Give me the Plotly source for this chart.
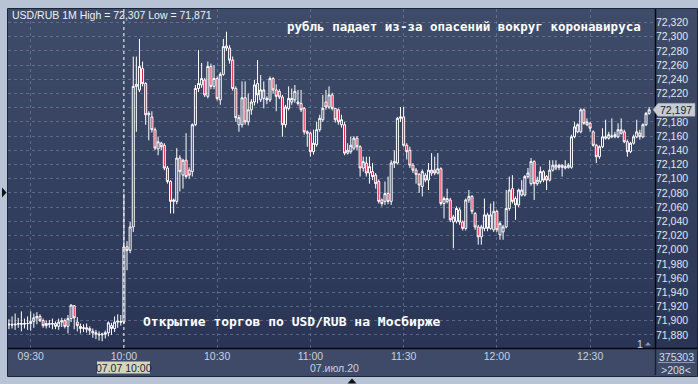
import plotly.graph_objects as go
import pandas as pd

# ---------------- data (1-minute candles, 07.07.2020, 09:23 .. 12:49) ----------------
open_ = [
    # 09:23-09:59
    71.894, 71.895, 71.894, 71.895, 71.896, 71.895, 71.896, 71.896, 71.899, 71.904,
    71.906, 71.900, 71.893, 71.896, 71.895, 71.896, 71.892, 71.898, 71.900, 71.892,
    71.903, 71.921, 71.898, 71.892, 71.889, 71.890, 71.889, 71.885, 71.883, 71.881,
    71.880, 71.881, 71.883, 71.893, 71.889, 71.898, 71.899,
    # 10:00-10:39
    71.898, 72.004, 71.999, 72.032, 72.230, 72.225, 72.255, 72.234, 72.190, 72.187,
    72.169, 72.142, 72.150, 72.147, 72.115, 72.096, 72.068, 72.068, 72.129, 72.105,
    72.126, 72.112, 72.110, 72.176, 72.227, 72.232, 72.239, 72.216, 72.258, 72.230,
    72.241, 72.211, 72.247, 72.287, 72.284, 72.267, 72.227, 72.176, 72.176, 72.214,
    # 10:40-10:59
    72.180, 72.197, 72.208, 72.234, 72.211, 72.213, 72.213, 72.211, 72.241, 72.225,
    72.223, 72.215, 72.176, 72.199, 72.208, 72.211, 72.208, 72.206, 72.199, 72.166,
    # 11:00-11:38
    72.164, 72.138, 72.148, 72.169, 72.183, 72.208, 72.201, 72.218, 72.199, 72.197,
    72.176, 72.176, 72.136, 72.138, 72.143, 72.157, 72.145, 72.115, 72.122, 72.108,
    72.110, 72.105, 72.096, 72.070, 72.068, 72.079, 72.068, 72.122, 72.122, 72.185,
    72.187, 72.147, 72.140, 72.119, 72.112, 72.106, 72.089, 72.105, 72.098,
    # 11:39-11:59
    72.108, 72.112, 72.108, 72.114, 72.065, 72.068, 72.070, 72.039, 72.040, 72.056,
    72.039, 72.030, 72.070, 72.075, 72.051, 72.032, 72.018, 72.030, 72.049, 72.030,
    72.028,
    # 12:00-12:27
    72.054, 72.021, 72.025, 72.032, 72.058, 72.086, 72.072, 72.063, 72.077, 72.077,
    72.103, 72.093, 72.124, 72.093, 72.096, 72.110, 72.103, 72.098, 72.112, 72.115,
    72.119, 72.119, 72.115, 72.116, 72.116, 72.159, 72.166, 72.166,
    # 12:28-12:49
    72.197, 72.176, 72.178, 72.166, 72.147, 72.131, 72.145, 72.157, 72.157, 72.159,
    72.159, 72.159, 72.164, 72.166, 72.152, 72.138, 72.150, 72.159, 72.164, 72.159,
    72.176, 72.192,
]
high = [
    71.902, 71.906, 71.910, 71.904, 71.913, 71.903, 71.906, 71.913, 71.910, 71.912,
    71.909, 71.903, 71.900, 71.901, 71.903, 71.899, 71.903, 71.904, 71.903, 71.908,
    71.923, 71.922, 71.905, 71.896, 71.895, 71.896, 71.892, 71.889, 71.887, 71.885,
    71.883, 71.886, 71.899, 71.897, 71.906, 71.909, 71.908,
    72.079, 72.012, 72.039, 72.272, 72.272, 72.297, 72.265, 72.236, 72.195, 72.195,
    72.172, 72.159, 72.152, 72.150, 72.118, 72.098, 72.072, 72.143, 72.133, 72.128,
    72.164, 72.116, 72.178, 72.232, 72.281, 72.263, 72.242, 72.265, 72.262, 72.260,
    72.244, 72.250, 72.297, 72.307, 72.288, 72.272, 72.230, 72.190, 72.237, 72.237,
    72.220, 72.212, 72.239, 72.267, 72.246, 72.237, 72.216, 72.244, 72.243, 72.233,
    72.226, 72.218, 72.204, 72.230, 72.227, 72.232, 72.225, 72.225, 72.201, 72.168,
    72.166, 72.169, 72.180, 72.190, 72.218, 72.225, 72.230, 72.221, 72.199, 72.199,
    72.190, 72.180, 72.150, 72.159, 72.160, 72.160, 72.147, 72.131, 72.131, 72.131,
    72.122, 72.108, 72.099, 72.072, 72.096, 72.103, 72.126, 72.140, 72.187, 72.201,
    72.201, 72.150, 72.145, 72.122, 72.115, 72.108, 72.113, 72.108, 72.122,
    72.136, 72.131, 72.136, 72.116, 72.075, 72.086, 72.073, 72.049, 72.061, 72.059,
    72.041, 72.072, 72.084, 72.077, 72.053, 72.035, 72.035, 72.072, 72.052, 72.065,
    72.068,
    72.056, 72.040, 72.035, 72.084, 72.103, 72.105, 72.075, 72.086, 72.098, 72.105,
    72.115, 72.129, 72.126, 72.103, 72.117, 72.112, 72.105, 72.126, 72.126, 72.126,
    72.121, 72.120, 72.126, 72.122, 72.162, 72.180, 72.178, 72.199,
    72.199, 72.185, 72.180, 72.168, 72.149, 72.147, 72.171, 72.183, 72.166, 72.185,
    72.166, 72.178, 72.185, 72.169, 72.155, 72.152, 72.162, 72.183, 72.169, 72.178,
    72.194, 72.201,
]
low = [
    71.888, 71.889, 71.887, 71.890, 71.885, 71.889, 71.887, 71.886, 71.890, 71.895,
    71.898, 71.890, 71.889, 71.890, 71.888, 71.888, 71.887, 71.891, 71.889, 71.882,
    71.898, 71.888, 71.885, 71.882, 71.884, 71.883, 71.880, 71.876, 71.874, 71.872,
    71.871, 71.875, 71.878, 71.880, 71.884, 71.890, 71.893,
    71.895, 71.971, 71.995, 72.025, 72.166, 72.222, 72.230, 72.176, 72.154, 72.165,
    72.140, 72.133, 72.140, 72.112, 72.093, 72.051, 72.051, 72.064, 72.082, 72.086,
    72.100, 72.100, 72.103, 72.174, 72.222, 72.228, 72.215, 72.213, 72.226, 72.226,
    72.210, 72.204, 72.245, 72.280, 72.262, 72.224, 72.180, 72.166, 72.172, 72.176,
    72.175, 72.190, 72.203, 72.206, 72.208, 72.199, 72.205, 72.208, 72.220, 72.195,
    72.212, 72.159, 72.172, 72.196, 72.204, 72.207, 72.203, 72.194, 72.162, 72.145,
    72.131, 72.134, 72.145, 72.166, 72.180, 72.197, 72.198, 72.196, 72.179, 72.176,
    72.172, 72.133, 72.134, 72.135, 72.140, 72.140, 72.103, 72.110, 72.103, 72.093,
    72.098, 72.086, 72.065, 72.061, 72.063, 72.064, 72.063, 72.115, 72.120, 72.180,
    72.145, 72.127, 72.115, 72.108, 72.093, 72.080, 72.075, 72.095, 72.084,
    72.104, 72.105, 72.106, 72.062, 72.044, 72.065, 72.039, 72.002, 72.037, 72.035,
    72.027, 72.027, 72.066, 72.050, 72.028, 72.007, 72.007, 72.026, 72.026, 72.028,
    72.025,
    72.025, 72.014, 72.014, 72.030, 72.055, 72.065, 72.042, 72.060, 72.075, 72.075,
    72.100, 72.090, 72.070, 72.090, 72.093, 72.095, 72.084, 72.096, 72.110, 72.112,
    72.112, 72.103, 72.113, 72.114, 72.114, 72.157, 72.164, 72.164,
    72.176, 72.174, 72.166, 72.145, 72.122, 72.128, 72.143, 72.155, 72.155, 72.157,
    72.157, 72.157, 72.162, 72.150, 72.131, 72.136, 72.148, 72.157, 72.155, 72.157,
    72.174, 72.190,
]
close = [
    71.895, 71.894, 71.895, 71.896, 71.895, 71.896, 71.896, 71.899, 71.904, 71.906,
    71.900, 71.893, 71.896, 71.895, 71.896, 71.892, 71.898, 71.900, 71.892, 71.903,
    71.922, 71.904, 71.893, 71.889, 71.890, 71.888, 71.886, 71.883, 71.881, 71.880,
    71.881, 71.883, 71.897, 71.889, 71.898, 71.899, 71.898,
    72.004, 71.999, 72.032, 72.230, 72.233, 72.258, 72.234, 72.190, 72.192, 72.169,
    72.143, 72.152, 72.145, 72.115, 72.096, 72.068, 72.070, 72.129, 72.110, 72.126,
    72.103, 72.105, 72.176, 72.227, 72.234, 72.241, 72.218, 72.258, 72.230, 72.241,
    72.213, 72.247, 72.286, 72.284, 72.267, 72.227, 72.186, 72.186, 72.214, 72.180,
    72.197, 72.208, 72.232, 72.218, 72.225, 72.225, 72.211, 72.241, 72.225, 72.216,
    72.215, 72.176, 72.201, 72.213, 72.213, 72.223, 72.206, 72.197, 72.166, 72.164,
    72.138, 72.150, 72.169, 72.185, 72.199, 72.201, 72.218, 72.199, 72.183, 72.180,
    72.183, 72.136, 72.140, 72.147, 72.157, 72.145, 72.115, 72.124, 72.108, 72.117,
    72.103, 72.093, 72.068, 72.065, 72.079, 72.068, 72.122, 72.124, 72.185, 72.187,
    72.147, 72.138, 72.119, 72.112, 72.106, 72.091, 72.110, 72.098, 72.112,
    72.112, 72.108, 72.114, 72.065, 72.072, 72.072, 72.042, 72.046, 72.058, 72.039,
    72.030, 72.070, 72.075, 72.054, 72.032, 72.018, 72.032, 72.049, 72.030, 72.049,
    72.054,
    72.028, 72.037, 72.032, 72.058, 72.084, 72.068, 72.063, 72.084, 72.084, 72.103,
    72.108, 72.124, 72.093, 72.098, 72.110, 72.098, 72.098, 72.112, 72.119, 72.119,
    72.116, 72.116, 72.117, 72.119, 72.159, 72.173, 72.176, 72.197,
    72.178, 72.180, 72.171, 72.147, 72.131, 72.145, 72.159, 72.159, 72.162, 72.160,
    72.162, 72.169, 72.169, 72.152, 72.138, 72.150, 72.159, 72.166, 72.159, 72.176,
    72.192, 72.197,
]
assert len(open_) == len(high) == len(low) == len(close)

start_time = "2020-07-07 09:23"
times = pd.date_range(start_time, periods=len(close), freq="min")

y_ticks = [71.88, 71.90, 71.92, 71.94, 71.96, 71.98, 72.00, 72.02, 72.04, 72.06, 72.08,
           72.10, 72.12, 72.14, 72.16, 72.18, 72.20, 72.22, 72.24, 72.26, 72.28, 72.30, 72.32]
# 72,200 is hidden behind the last-price marker in the original
y_tick_text = ["71,880", "71,900", "71,920", "71,940", "71,960", "71,980", "72,000", "72,020",
               "72,040", "72,060", "72,080", "72,100", "72,120", "72,140", "72,160", "72,180",
               "", "72,220", "72,240", "72,260", "72,280", "72,300", "72,320"]
x_tick_vals = ["2020-07-07 09:30", "2020-07-07 10:00", "2020-07-07 10:30", "2020-07-07 11:00",
               "2020-07-07 11:30", "2020-07-07 12:00", "2020-07-07 12:30"]
x_tick_text = ["09:30", "10:00", "10:30", "11:00", "11:30", "12:00", "12:30"]

header_text = "USD/RUB 1M High = 72,307 Low = 71,871"
title_text = "рубль падает из-за опасений вокруг коронавируса"
note_text = "Открытие торгов по USD/RUB на Мосбирже"
cursor_time = "2020-07-07 10:00"
cursor_label = "07.07 10:00"
date_label = "07.июл.20"
last_price = 72.197
last_price_text = "72,197"
volume_text = "375303"
bars_text = ">208<"

# ---------------- geometry ----------------
W, H = 698, 384
L, R, T, B = 8, 43, 9, 36
PW, PH = W - L - R, H - T - B
Y_MIN, Y_MAX = 71.8615, 72.339
X_RANGE = ["2020-07-07 09:22:42", "2020-07-07 12:50:53"]


def px(x):
    return (x - L) / PW


def py(y):
    return (H - B - y) / PH


def yp(price):
    return (price - Y_MIN) / (Y_MAX - Y_MIN)


shapes = []
# gradient background (plot + right axis panel)
top_c = (63, 76, 105)
bot_c = (42, 53, 86)
N = 48
for i in range(N):
    f0, f1 = i / N, (i + 1) / N
    t = (i + 0.5) / N
    c = tuple(round(bot_c[k] + (top_c[k] - bot_c[k]) * t) for k in range(3))
    shapes.append(dict(type="rect", xref="paper", yref="paper", x0=px(L), x1=px(697),
                       y0=f0 - 0.002, y1=f1 + 0.002, fillcolor="rgb(%d,%d,%d)" % c,
                       line=dict(width=0), layer="below"))
# x-axis band
shapes.append(dict(type="rect", xref="paper", yref="paper", x0=px(L), x1=px(697),
                   y0=py(376), y1=py(348), fillcolor="#3e4a67", line=dict(width=0), layer="below"))
# outer dark frame
shapes.append(dict(type="rect", xref="paper", yref="paper", x0=px(7.5), x1=px(697.5),
                   y0=py(376.5), y1=py(8.5), line=dict(color="#1c2438", width=1), layer="below"))
# black separators
shapes.append(dict(type="line", xref="paper", yref="paper", x0=px(L), x1=px(697),
                   y0=py(348.5), y1=py(348.5), line=dict(color="#05080f", width=1.5)))
shapes.append(dict(type="line", xref="paper", yref="paper", x0=px(655.5), x1=px(655.5),
                   y0=py(348.5), y1=py(9), line=dict(color="#05080f", width=1.5)))
shapes.append(dict(type="line", xref="paper", yref="paper", x0=px(655.5), x1=px(655.5),
                   y0=py(375), y1=py(349), line=dict(color="#1a2030", width=1.5)))
# separator in right band
shapes.append(dict(type="line", xref="paper", yref="paper", x0=px(658), x1=px(695),
                   y0=py(362.5), y1=py(362.5), line=dict(color="#8e99ad", width=1)))
# cursor line at 10:00
shapes.append(dict(type="line", xref="x", yref="paper", x0=cursor_time, x1=cursor_time,
                   y0=0, y1=1, line=dict(color="#f2f2f2", width=1, dash="dot")))
# last-price marker
lp = yp(last_price)
hh = 6.5 / PH
shapes.append(dict(type="path", xref="paper", yref="paper",
                   path="M %f %f L %f %f L %f %f L %f %f L %f %f Z" % (
                       px(653), lp, px(658), lp + hh, px(695), lp + hh, px(695), lp - hh, px(658), lp - hh),
                   fillcolor="#c8ccd3", line=dict(color="#9aa0aa", width=0.5)))
# cursor time label box
shapes.append(dict(type="rect", xref="paper", yref="paper", x0=px(97), x1=px(150),
                   y0=py(373.5), y1=py(361.5), fillcolor="#d6d6ba", line=dict(width=0)))
# frame pointers
shapes.append(dict(type="path", xref="paper", yref="paper",
                   path="M %f %f L %f %f L %f %f Z" % (px(2), py(187.5), px(6.5), py(192.5), px(2), py(197.5)),
                   fillcolor="#111", line=dict(width=0)))
shapes.append(dict(type="path", xref="paper", yref="paper",
                   path="M %f %f L %f %f L %f %f Z" % (px(347.5), py(383.5), px(352), py(378.5), px(356.5), py(383.5)),
                   fillcolor="#111", line=dict(width=0)))
shapes.append(dict(type="path", xref="paper", yref="paper",
                   path="M %f %f L %f %f L %f %f Z" % (px(645), py(345.5), px(648), py(342), px(651), py(345.5)),
                   fillcolor="#8c96a8", line=dict(width=0)))

ui_font = "Liberation Sans"
mono_font = "DejaVu Sans Mono"
annotations = [
    dict(text=header_text, xref="paper", yref="paper", x=px(10), y=py(15.5), xanchor="left",
         yanchor="middle", showarrow=False, font=dict(family=ui_font, size=10.5, color="#eef1f6")),
    dict(text=title_text, xref="paper", yref="paper", x=px(643), y=py(26), xanchor="right",
         yanchor="middle", showarrow=False,
         font=dict(family=mono_font, size=12.5, color="#ffffff", weight="bold")),
    dict(text=note_text, xref="paper", yref="paper", x=px(141), y=py(321.5), xanchor="left",
         yanchor="middle", showarrow=False,
         font=dict(family=mono_font, size=13, color="#ffffff", weight="bold")),
    dict(text=last_price_text, xref="paper", yref="paper", x=px(676.5), y=lp, xanchor="center",
         yanchor="middle", showarrow=False, font=dict(family=ui_font, size=10.5, color="#1a2030")),
    dict(text=cursor_label, xref="paper", yref="paper", x=px(123.5), y=py(367.5), xanchor="center",
         yanchor="middle", showarrow=False, font=dict(family=ui_font, size=10.5, color="#1a2340")),
    dict(text=date_label, xref="paper", yref="paper", x=px(334.5), y=py(368), xanchor="center",
         yanchor="middle", showarrow=False, font=dict(family=ui_font, size=10.5, color="#c8d1e3")),
    dict(text=volume_text, xref="paper", yref="paper", x=px(676.5), y=py(356.5), xanchor="center",
         yanchor="middle", showarrow=False, font=dict(family=ui_font, size=10.5, color="#d4dbe8")),
    dict(text=bars_text, xref="paper", yref="paper", x=px(676.5), y=py(369.5), xanchor="center",
         yanchor="middle", showarrow=False, font=dict(family=ui_font, size=10.5, color="#d4dbe8")),
    dict(text="1", xref="paper", yref="paper", x=px(639.5), y=py(343.5), xanchor="center",
         yanchor="middle", showarrow=False, font=dict(family=ui_font, size=10.5, color="#c8d1e3")),
]

fig = go.Figure(go.Candlestick(
    x=times, open=open_, high=high, low=low, close=close,
    increasing=dict(line=dict(color="#ffffff", width=1), fillcolor="rgba(0,0,0,0)"),
    decreasing=dict(line=dict(color="#ffffff", width=1), fillcolor="#e3163e"),
    whiskerwidth=0, hoverinfo="skip", showlegend=False,
))

grid_c = "rgba(125,140,170,0.55)"
fig.update_layout(
    width=W, height=H, autosize=False,
    margin=dict(l=L, r=R, t=T, b=B, pad=0),
    paper_bgcolor="#b8c4d5", plot_bgcolor="rgba(0,0,0,0)",
    boxgap=0.08,
    shapes=shapes, annotations=annotations,
    xaxis=dict(type="date", range=X_RANGE, tickvals=x_tick_vals, ticktext=x_tick_text,
               showgrid=True, gridcolor=grid_c, griddash="3px,3px", gridwidth=1,
               zeroline=False, showline=False, ticks="",
               tickfont=dict(family=ui_font, size=10.5, color="#c8d1e3"),
               rangeslider=dict(visible=False), fixedrange=True),
    yaxis=dict(side="right", range=[Y_MIN, Y_MAX], tickvals=y_ticks, ticktext=y_tick_text,
               showgrid=True, gridcolor=grid_c, griddash="3px,3px", gridwidth=1,
               zeroline=False, showline=False, ticks="",
               tickfont=dict(family=ui_font, size=10.5, color="#e2e6ee"),
               fixedrange=True),
)

fig.write_html("out.html")
